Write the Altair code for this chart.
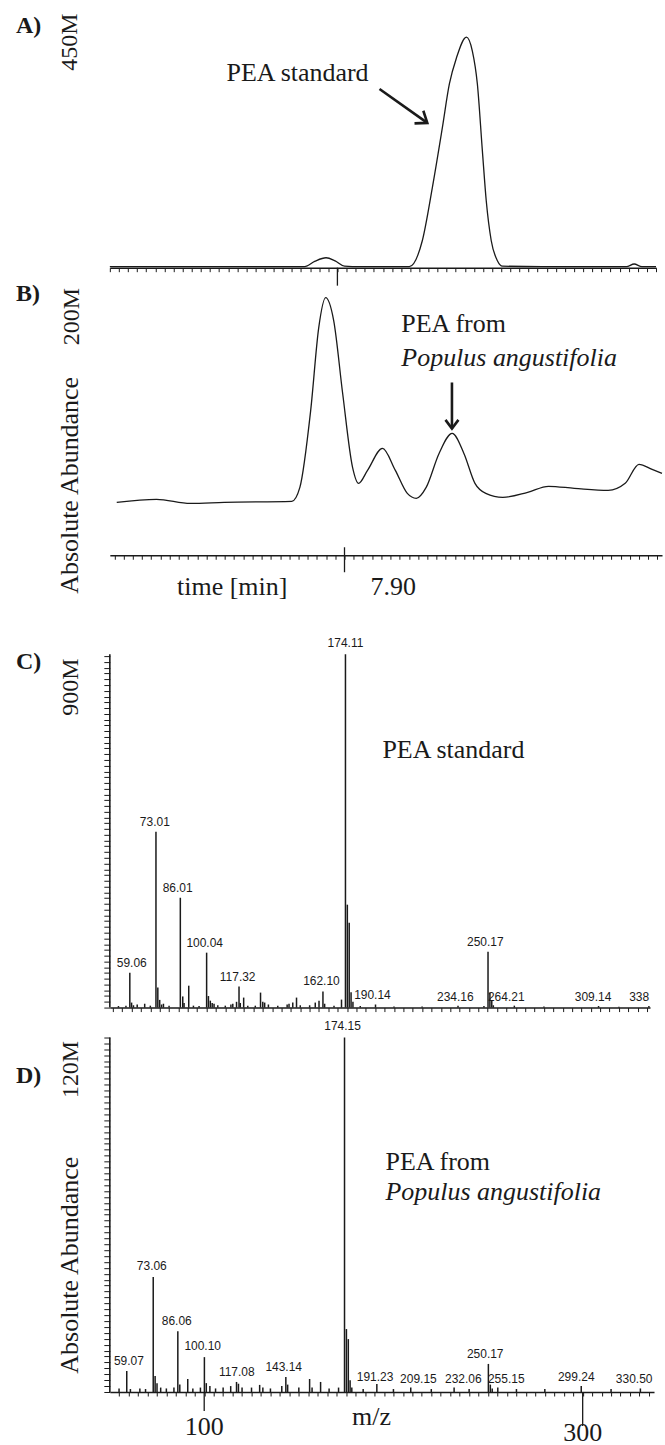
import altair as alt
import pandas as pd

# ---------------- Panel A: PEA standard (chromatogram) ----------------
a_time = [7.800, 7.860, 7.8856, 7.8900, 7.8950, 7.8990, 7.9031, 7.9100, 7.9316, 7.9373,
          7.9417, 7.9461, 7.9492, 7.9523, 7.9567, 7.9593, 7.9615, 7.9637, 7.9654, 7.9676,
          7.9703, 7.9725, 7.9900, 8.0270, 8.0304, 8.0338, 8.0400]
a_abund = [2, 2, 2, 12, 19, 13, 3, 2, 2, 51.5,
           152.7, 267.2, 351.1, 400.8, 440.8, 414.1, 351.1, 223.3, 127.9, 51.5,
           13.4, 3, 2, 2, 7, 2, 2]

# ---------------- Panel B: PEA from Populus angustifolia (chromatogram) ----------------
b_time = [7.8010, 7.8183, 7.8330, 7.8477, 7.8771, 7.8806, 7.8853, 7.8888, 7.8918, 7.8953,
          7.8992, 7.9035, 7.9061, 7.9100, 7.9165, 7.9221, 7.9273, 7.9312, 7.9355, 7.9411,
          7.9468, 7.9519, 7.9567, 7.9614, 7.9688, 7.9796, 7.9887, 7.9999, 8.0146, 8.0220,
          8.0280, 8.0337, 8.0380]
b_abund = [46.0, 48.6, 45.1, 46.0, 46.9, 59.0, 125.9, 197.9, 223.9, 204.0,
           140.6, 76.4, 62.5, 73.8, 92.9, 73.8, 53.8, 49.5, 59.0, 88.5,
           105.9, 88.5, 62.5, 53.8, 50.3, 54.7, 59.9, 58.2, 56.4, 62.5,
           79.0, 74.6, 71.2]

# ---------------- Panel C: mass spectrum of PEA standard ----------------
c_mz = [53.0, 57.0, 59.06, 60.0, 61.0, 63.0, 67.0, 70.0, 73.01, 74.0,
        75.0, 76.0, 77.0, 80.0, 86.01, 87.3, 88.0, 90.5, 93.0, 96.0,
        100.04, 101.0, 102.0, 103.0, 104.0, 106.0, 110.0, 113.0, 114.0, 116.0,
        117.32, 118.0, 119.8, 122.0, 126.0, 128.8, 130.0, 131.0, 133.0, 138.0,
        143.0, 144.0, 146.0, 148.0, 150.0, 155.0, 158.0, 160.0, 162.10, 163.0,
        168.0, 172.0, 174.11, 175.11, 176.11, 177.1, 178.1, 182.0, 190.14, 200.0,
        215.0, 234.16, 248.0, 250.17, 251.17, 252.17, 253.0, 264.21, 280.0, 309.14,
        320.0, 336.0]
c_abund = [4, 5, 91, 13, 6, 8, 10, 5, 457.6, 52,
           20, 8, 10, 5, 286, 29, 12, 57, 5, 4,
           143, 30, 18, 12, 10, 6, 5, 8, 10, 15,
           54.6, 12, 26, 5, 5, 39, 15, 13, 8, 5,
           8, 10, 13, 26, 6, 6, 13, 18, 41.6, 10,
           5, 20.8, 920, 268, 221, 40, 15, 4, 8, 3,
           3, 5, 4, 145.6, 39, 20, 6, 5, 3, 4,
           2, 4]
c_label_text = ["59.06", "73.01", "86.01", "100.04", "117.32", "162.10", "174.11",
                "190.14", "234.16", "250.17", "264.21", "309.14", "338"]
c_label_mz = [60.1, 72.4, 84.6, 99.0, 116.6, 161.3, 174.11,
              188.5, 232.7, 248.7, 259.9, 306.2, 330.8]
c_label_abund = [117, 483.6, 312, 169, 80.6, 70.2, 949,
                 33.8, 28.6, 171.6, 28.6, 28.6, 28.6]

# ---------------- Panel D: mass spectrum of PEA from Populus angustifolia ----------------
d_mz = [55.0, 59.07, 61.0, 66.0, 69.0, 73.06, 74.06, 75.06, 77.0, 80.0,
        84.0, 86.06, 87.1, 91.3, 94.0, 98.0, 100.10, 101.1, 103.0, 106.0,
        110.0, 114.0, 117.08, 118.1, 120.0, 125.0, 129.3, 131.0, 135.0, 141.0,
        143.14, 144.1, 150.0, 155.7, 157.0, 161.5, 166.0, 171.0, 174.15, 175.15,
        176.15, 177.1, 178.0, 184.0, 191.23, 200.0, 209.15, 220.0, 232.06, 240.0,
        250.17, 251.2, 252.2, 255.15, 265.0, 280.0, 299.24, 315.0, 330.50]
d_abund = [1.2, 7.1, 1.0, 1.2, 1.0, 38.9, 5.4, 3.0, 1.5, 1.2,
           1.5, 20.6, 2.5, 4.4, 1.2, 1.5, 11.8, 3.0, 2.0, 1.2,
           1.5, 2.0, 3.4, 2.8, 1.5, 1.5, 2.4, 1.5, 1.2, 2.0,
           5.1, 2.5, 1.5, 4.4, 1.5, 3.4, 1.2, 1.5, 120, 21.3,
           17.9, 4.0, 1.5, 1.0, 2.7, 1.0, 1.5, 1.0, 1.5, 1.0,
           9.5, 2.5, 1.2, 1.5, 1.0, 1.0, 2.0, 1.0, 1.2]
d_label_text = ["59.07", "73.06", "86.06", "100.10", "117.08", "143.14", "174.15",
                "191.23", "209.15", "232.06", "250.17", "255.15", "299.24", "330.50"]
d_label_mz = [60.2, 72.3, 85.5, 99.2, 117.2, 142.0, 173.1,
              190.3, 213.2, 236.9, 248.5, 259.6, 296.6, 327.2]
d_label_abund = [10.5, 42.6, 24.0, 15.5, 6.8, 8.5, 123.7,
                 5.1, 4.4, 4.4, 12.8, 4.4, 5.1, 4.4]
d_major_ticks = [100.0, 300.0]

# ---------------- styling ----------------
SERIF = "Liberation Serif, Times New Roman, serif"
NARROW = "Liberation Sans, Arial, sans-serif"
INK = "#1a1a1a"
NOTE = 26
CHEVRON = "M -1 -0.75 L 0 0 L -1 0.75"
ONE = pd.DataFrame({"k": [0]})


def ticks(start, stop, step):
    n = int(round((stop - start) / step))
    return [round(start + i * step, 4) for i in range(n + 1)]


def x_axis(values):
    return alt.Axis(values=values, labels=False, title=None, grid=False, tickSize=4,
                    tickWidth=1, tickColor=INK, domainColor=INK, domainWidth=1.6)


def y_axis(values):
    return alt.Axis(values=values, labels=False, title=None, grid=False, tickSize=6,
                    tickWidth=1, tickColor=INK, domain=False)


def fixed_text(text, x, y, size=24, bold=False, angle=0, align="center"):
    return alt.Chart(ONE).mark_text(
        text=text, font=SERIF, fontSize=size, fontWeight="bold" if bold else "normal",
        angle=angle, align=align, baseline="middle", color=INK
    ).encode(x=alt.value(x), y=alt.value(y))


# ======================= Panel A =======================
A_W, A_H = 547, 262
ax_a = alt.Scale(domain=[7.80, 8.04], nice=False, zero=False)
ay_a = alt.Scale(domain=[0, 500], nice=False, zero=False)
axA = x_axis(ticks(7.80, 8.04, 0.004))


def XA(f):
    return alt.X(f, type="quantitative", scale=ax_a, axis=axA)


def YA(f):
    return alt.Y(f, type="quantitative", scale=ay_a, axis=None)


dfA = pd.DataFrame({"t": a_time, "v": a_abund})
a_line = alt.Chart(dfA).mark_line(color=INK, strokeWidth=1.3, interpolate="monotone").encode(
    x=XA("t"), y=YA("v"))
a_tick = alt.Chart(pd.DataFrame({"t": [7.90]})).mark_rule(color=INK, strokeWidth=1.3).encode(
    x=XA("t"), y=alt.value(A_H), y2=alt.value(A_H + 18))
dfA_arrow = pd.DataFrame({"t": [7.9185, 7.9395], "v": [341.6, 276.7]})
a_arrow = alt.Chart(dfA_arrow).mark_line(color=INK, strokeWidth=2.6).encode(x=XA("t"), y=YA("v"))
a_head = alt.Chart(dfA_arrow.iloc[[1]]).mark_point(
    shape=CHEVRON, size=420, angle=35, filled=False, strokeWidth=2.6, color=INK, opacity=1
).encode(x=XA("t"), y=YA("v"))
a_note = alt.Chart(pd.DataFrame({"t": [7.8825], "v": [372], "s": ["PEA standard"]})).mark_text(
    font=SERIF, fontSize=NOTE, align="center", baseline="middle", color=INK
).encode(x=XA("t"), y=YA("v"), text="s:N")

panelA = alt.layer(
    a_line, a_tick, a_arrow, a_head, a_note,
    fixed_text("A)", -94, 20, bold=True, align="left"),
    fixed_text("450M", -40, 36, angle=270),
).properties(width=A_W, height=A_H)

# ======================= Panel B =======================
B_W, B_H = 553, 288
ax_b = alt.Scale(domain=[7.798, 8.038], nice=False, zero=False)
ay_b = alt.Scale(domain=[0, 250], nice=False, zero=False)
axB = x_axis(ticks(7.800, 8.036, 0.004))


def XB(f):
    return alt.X(f, type="quantitative", scale=ax_b, axis=axB)


def YB(f):
    return alt.Y(f, type="quantitative", scale=ay_b, axis=None)


dfB = pd.DataFrame({"t": b_time, "v": b_abund})
b_line = alt.Chart(dfB).mark_line(color=INK, strokeWidth=1.3, interpolate="monotone").encode(
    x=XB("t"), y=YB("v"))
b_tick = alt.Chart(pd.DataFrame({"t": [7.90]})).mark_rule(color=INK, strokeWidth=1.3).encode(
    x=XB("t"), y=alt.value(B_H - 8), y2=alt.value(B_H + 17))
dfB_arrow = pd.DataFrame({"t": [7.9467, 7.9467], "v": [150.2, 110.2]})
b_arrow = alt.Chart(dfB_arrow).mark_line(color=INK, strokeWidth=2.6).encode(x=XB("t"), y=YB("v"))
b_head = alt.Chart(dfB_arrow.iloc[[1]]).mark_point(
    shape=CHEVRON, size=300, angle=90, filled=False, strokeWidth=2.6, color=INK, opacity=1
).encode(x=XB("t"), y=YB("v"))
b_note1 = alt.Chart(pd.DataFrame({"t": [7.9247], "v": [201.4], "s": ["PEA from"]})).mark_text(
    font=SERIF, fontSize=NOTE, align="left", baseline="middle", color=INK
).encode(x=XB("t"), y=YB("v"), text="s:N")
b_note2 = alt.Chart(pd.DataFrame({"t": [7.9247], "v": [171.9], "s": ["Populus angustifolia"]})).mark_text(
    font=SERIF, fontSize=NOTE, fontStyle="italic", align="left", baseline="middle", color=INK
).encode(x=XB("t"), y=YB("v"), text="s:N")
b_axis_text = alt.Chart(pd.DataFrame({"t": [7.8512, 7.9212], "s": ["time [min]", "7.90"]})).mark_text(
    font=SERIF, fontSize=NOTE, align="center", baseline="middle", color=INK
).encode(x=XB("t"), y=alt.value(B_H + 32), text="s:N")

panelB = alt.layer(
    b_line, b_tick, b_arrow, b_head, b_note1, b_note2, b_axis_text,
    fixed_text("B)", -94, 26, bold=True, align="left"),
    fixed_text("200M", -38, 49, angle=270),
    fixed_text("Absolute Abundance", -40, 218, size=NOTE, angle=270),
).properties(width=B_W, height=B_H)

# ======================= Panel C =======================
C_W, C_H = 541, 453
ax_c = alt.Scale(domain=[48.4, 336.6], nice=False, zero=False)
ay_c = alt.Scale(domain=[0, 1178], nice=False, zero=False)
axC = x_axis(ticks(50, 335, 5))
ayC = y_axis(ticks(0, 915, 15))


def XC(f):
    return alt.X(f, type="quantitative", scale=ax_c, axis=axC)


def YC(f):
    return alt.Y(f, type="quantitative", scale=ay_c, axis=ayC)


dfC = pd.DataFrame({"mz": c_mz, "v": c_abund, "z": 0.0})
c_bars = alt.Chart(dfC).mark_rule(color=INK, strokeWidth=1.5).encode(
    x=XC("mz"), y=YC("v"), y2="z")
c_yline = alt.Chart(pd.DataFrame({"y0": [0.0], "y1": [920.0]})).mark_rule(
    color=INK, strokeWidth=1.6).encode(x=alt.value(0), y=YC("y0"), y2="y1")
dfC_lab = pd.DataFrame({"mz": c_label_mz, "v": c_label_abund, "s": c_label_text})
c_labels = alt.Chart(dfC_lab).mark_text(
    font=NARROW, fontSize=12, align="center", baseline="middle", color=INK
).encode(x=XC("mz"), y=YC("v"), text="s:N")
c_note = alt.Chart(pd.DataFrame({"mz": [231.7], "v": [670.8], "s": ["PEA standard"]})).mark_text(
    font=SERIF, fontSize=NOTE, align="center", baseline="middle", color=INK
).encode(x=XC("mz"), y=YC("v"), text="s:N")

panelC = alt.layer(
    c_bars, c_yline, c_labels, c_note,
    fixed_text("C)", -94, 107, bold=True, align="left"),
    fixed_text("900M", -39, 132, angle=270),
).properties(width=C_W, height=C_H)

# ======================= Panel D =======================
D_W, D_H = 545, 385
ax_d = alt.Scale(domain=[50.13, 337.7], nice=False, zero=False)
ay_d = alt.Scale(domain=[0, 130.1], nice=False, zero=False)
axD = x_axis(ticks(55, 335, 5))
ayD = y_axis(ticks(0, 120, 2))


def XD(f):
    return alt.X(f, type="quantitative", scale=ax_d, axis=axD)


def YD(f):
    return alt.Y(f, type="quantitative", scale=ay_d, axis=ayD)


dfD = pd.DataFrame({"mz": d_mz, "v": d_abund, "z": 0.0})
d_bars = alt.Chart(dfD).mark_rule(color=INK, strokeWidth=1.5).encode(
    x=XD("mz"), y=YD("v"), y2="z")
d_yline = alt.Chart(pd.DataFrame({"y0": [0.0], "y1": [120.0]})).mark_rule(
    color=INK, strokeWidth=1.6).encode(x=alt.value(0), y=YD("y0"), y2="y1")
dfD_lab = pd.DataFrame({"mz": d_label_mz, "v": d_label_abund, "s": d_label_text})
d_labels = alt.Chart(dfD_lab).mark_text(
    font=NARROW, fontSize=12, align="center", baseline="middle", color=INK
).encode(x=XD("mz"), y=YD("v"), text="s:N")
d_note1 = alt.Chart(pd.DataFrame({"mz": [195.8], "v": [77.7], "s": ["PEA from"]})).mark_text(
    font=SERIF, fontSize=NOTE, align="left", baseline="middle", color=INK
).encode(x=XD("mz"), y=YD("v"), text="s:N")
d_note2 = alt.Chart(pd.DataFrame({"mz": [195.8], "v": [67.6], "s": ["Populus angustifolia"]})).mark_text(
    font=SERIF, fontSize=NOTE, fontStyle="italic", align="left", baseline="middle", color=INK
).encode(x=XD("mz"), y=YD("v"), text="s:N")
d_major_100 = alt.Chart(pd.DataFrame({"mz": [d_major_ticks[0]]})).mark_rule(
    color=INK, strokeWidth=1.3).encode(x=XD("mz"), y=alt.value(D_H), y2=alt.value(D_H + 19))
d_major_300 = alt.Chart(pd.DataFrame({"mz": [d_major_ticks[1]]})).mark_rule(
    color=INK, strokeWidth=1.3).encode(x=XD("mz"), y=alt.value(D_H), y2=alt.value(D_H + 34))
d_major_lab_100 = alt.Chart(pd.DataFrame({"mz": [d_major_ticks[0]], "s": ["100"]})).mark_text(
    font=SERIF, fontSize=NOTE, align="center", baseline="middle", color=INK
).encode(x=XD("mz"), y=alt.value(D_H + 35), text="s:N")
d_major_lab_300 = alt.Chart(pd.DataFrame({"mz": [d_major_ticks[1]], "s": ["300"]})).mark_text(
    font=SERIF, fontSize=NOTE, align="center", baseline="middle", color=INK
).encode(x=XD("mz"), y=alt.value(D_H + 41), text="s:N")
d_mz_title = alt.Chart(pd.DataFrame({"mz": [188.4], "s": ["m/z"]})).mark_text(
    font=SERIF, fontSize=NOTE, align="center", baseline="middle", color=INK
).encode(x=XD("mz"), y=alt.value(D_H + 25), text="s:N")

panelD = alt.layer(
    d_bars, d_yline, d_labels, d_note1, d_note2, d_major_100, d_major_300,
    d_major_lab_100, d_major_lab_300, d_mz_title,
    fixed_text("D)", -94, 69, bold=True, align="left"),
    fixed_text("120M", -39, 62, angle=270),
    fixed_text("Absolute Abundance", -40, 258, size=NOTE, angle=270),
).properties(width=D_W, height=D_H)

chart = alt.vconcat(panelA, panelB, panelC, panelD, spacing=0, bounds="flush").properties(
    padding={"left": 16, "top": 5, "right": 0, "bottom": 0}
).configure_view(strokeWidth=0)

chart.save("out.html", embed_options={"renderer": "svg", "actions": False})
